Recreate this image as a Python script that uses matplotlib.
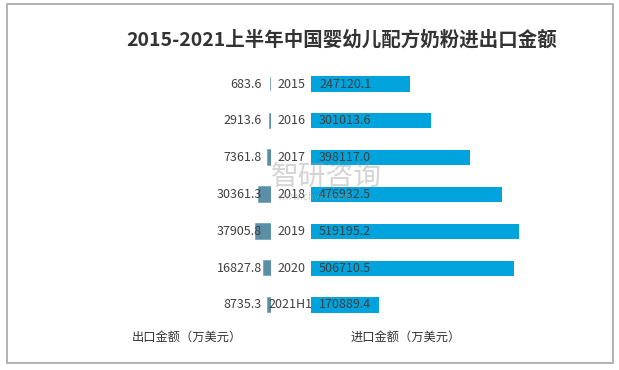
import matplotlib
matplotlib.use("Agg")
import matplotlib.pyplot as plt
from matplotlib.patches import Rectangle
import matplotlib.transforms as mtransforms

plt.rcParams['font.family'] = ['Noto Sans CJK SC', 'DejaVu Sans']

years = ['2015', '2016', '2017', '2018', '2019', '2020', '2021H1']
export_vals = [683.6, 2913.6, 7361.8, 30361.3, 37905.8, 16827.8, 8735.3]
import_vals = [247120.1, 301013.6, 398117.0, 476932.5, 519195.2, 506710.5, 170889.4]
title = '2015-2021上半年中国婴幼儿配方奶粉进出口金额'
export_label = '出口金额（万美元）'
import_label = '进口金额（万美元）'

W, H = 619, 370
fig = plt.figure(figsize=(W / 100, H / 100), dpi=100)

def fx(px):
    return px / W

def fy(py):
    return 1 - py / H

top_px, bot_px = 65.6, 323.4
scale = 2500.0  # units per pixel
left_l, left_r = 20, 271
right_l, right_r = 311, 600

axL = fig.add_axes([fx(left_l), fy(bot_px), fx(left_r - left_l), (bot_px - top_px) / H])
axR = fig.add_axes([fx(right_l), fy(bot_px), fx(right_r - right_l), (bot_px - top_px) / H])

ypos = list(range(len(years)))
axL.barh(ypos, export_vals, height=0.39, color='#5B8FA8', edgecolor='#5B8FA8', linewidth=1.1)
axR.barh(ypos, import_vals, height=0.41, color='#00A3DB')
axL.set_xlim((left_r - left_l) * scale, 0)
axR.set_xlim(0, (right_r - right_l) * scale)
for ax in (axL, axR):
    ax.set_ylim(len(years) - 0.5, -0.5)
    ax.axis('off')

for i, (e, v) in enumerate(zip(export_vals, import_vals)):
    axL.annotate(f'{e:.1f}', xy=(0, i), xytext=(-6.5, 0), textcoords='offset points',
                 ha='right', va='center', fontsize=9, color='#404040')
    axR.annotate(f'{v:.1f}', xy=(0, i), xytext=(5.8, 0), textcoords='offset points',
                 ha='left', va='center', fontsize=9, color='#404040')
    trans = mtransforms.blended_transform_factory(fig.transFigure, axR.transData)
    fig.text(fx(291), i, years[i], transform=trans, ha='center', va='center',
             fontsize=9, color='#404040')

fig.text(fx(341.5), fy(40), title, ha='center', va='center', fontsize=14,
         fontweight='bold', color='#333333')
fig.text(fx(187), fy(337), export_label, ha='center', va='center', fontsize=8.8, color='#333333')
fig.text(fx(406), fy(337), import_label, ha='center', va='center', fontsize=8.8, color='#333333')

# watermark
fig.text(fx(326), fy(177), '智研咨询', ha='center', va='center', fontsize=20,
         color='#a0a0a0', alpha=0.45, zorder=10)
fig.text(fx(315), fy(197), 'www.chyxx.com', ha='center', va='center', fontsize=7,
         color='#a0a0a0', alpha=0.45, zorder=10)

# border
fig.patches.append(Rectangle((fx(7), fy(363)), fx(606), (363 - 4) / H,
                             transform=fig.transFigure, fill=False,
                             edgecolor='#A6A6A6', linewidth=1.2))

fig.savefig('out.png', dpi=100)
